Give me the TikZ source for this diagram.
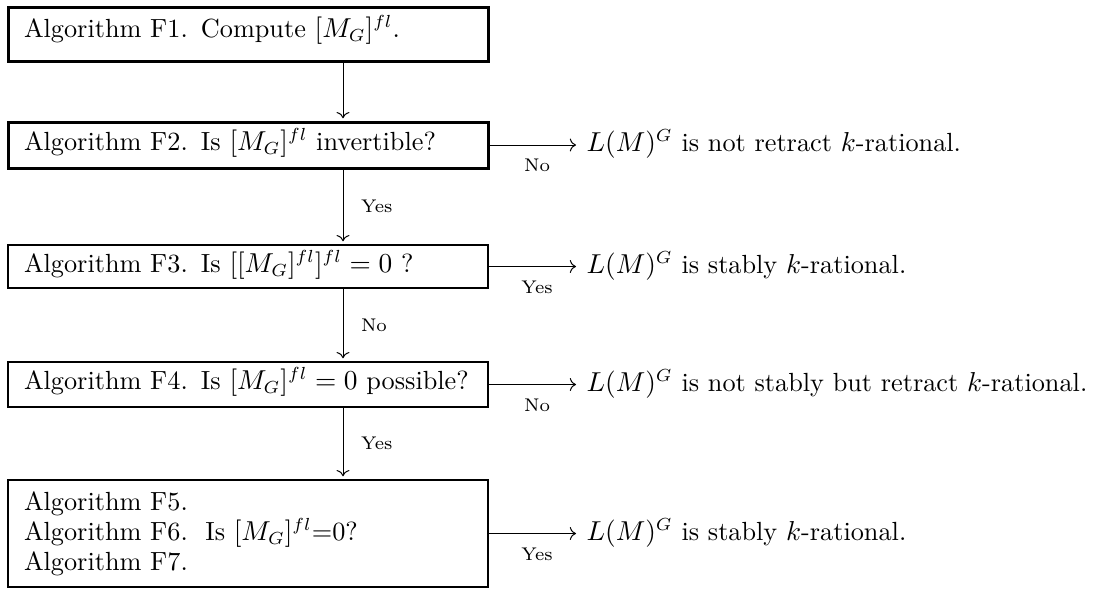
\documentclass[tikz,border=0pt]{standalone}
\usetikzlibrary{arrows.meta}
\begin{document}
\begin{tikzpicture}[x=0.4pt,y=-0.4pt,
  box/.style={draw, line width=0.8pt, anchor=north west, minimum width=192pt,
    inner xsep=6.4pt, inner ysep=0pt, text width=179.2pt, align=left, outer sep=0pt,
    font=\fontsize{10.5}{12}\selectfont},
  thickbox/.style={box, line width=1.2pt},
  arr/.style={-{Computer Modern Rightarrow}, line width=0.4pt},
  lab/.style={font=\fontsize{7.35}{9}\selectfont, inner sep=1pt},
  res/.style={anchor=base west, inner sep=0pt, font=\fontsize{10.5}{12}\selectfont}]
\useasboundingbox (0,0) rectangle (1097,588);
\coordinate (ax) at (343,0);
\node[thickbox, text height=12pt, text depth=9.6pt] (f1) at (8,7) {Algorithm F1. Compute $[M_G]^{fl}$.};
\node[thickbox, text height=11.2pt, text depth=7.2pt] (f2) at (8,122) {Algorithm F2. Is $[M_G]^{fl}$ invertible?};
\node[box, text height=10.8pt, text depth=6.4pt] (f3) at (8,245) {Algorithm F3. Is $[[M_G]^{fl}]^{fl} = 0$ ?};
\node[box, text height=11pt, text depth=7pt] (f4) at (8,362) {Algorithm F4. Is $[M_G]^{fl} = 0$ possible?};
\node[box, minimum height=42.8pt] (f5) at (8,480) {Algorithm F5.\\Algorithm F6.\ \ Is $[M_G]^{fl}$=0?\\Algorithm F7.};
\node[res] (r2) at (586,151.5) {$L(M)^G$ is not retract $k$-rational.};
\node[res] (r3) at (586,273) {$L(M)^G$ is stably $k$-rational.};
\node[res] (r4) at (586,391) {$L(M)^G$ is not stably but retract $k$-rational.};
\node[res] (r5) at (586,540) {$L(M)^G$ is stably $k$-rational.};
\draw[arr, shorten >=1.5pt] (f1.south -| ax) -- (f2.north -| ax);
\draw[arr, shorten >=1.5pt] (f2.south -| ax) -- (f3.north -| ax) node[midway, right, lab, xshift=6pt] {Yes};
\draw[arr, shorten >=1.5pt] (f3.south -| ax) -- (f4.north -| ax) node[midway, right, lab, xshift=6pt] {No};
\draw[arr, shorten >=1.5pt] (f4.south -| ax) -- (f5.north -| ax) node[midway, right, lab, xshift=6pt] {Yes};
\draw[arr, shorten >=4pt] (f2.east) -- (f2.east -| r2.west) node[midway, below, lab, yshift=-4.5pt] {No};
\draw[arr, shorten >=4pt] (f3.east) -- (f3.east -| r3.west) node[midway, below, lab, yshift=-4.5pt] {Yes};
\draw[arr, shorten >=4pt] (f4.east) -- (f4.east -| r4.west) node[midway, below, lab, yshift=-4.5pt] {No};
\draw[arr, shorten >=4pt] (f5.east) -- (f5.east -| r5.west) node[midway, below, lab, yshift=-4.5pt] {Yes};
\end{tikzpicture}
\end{document}
